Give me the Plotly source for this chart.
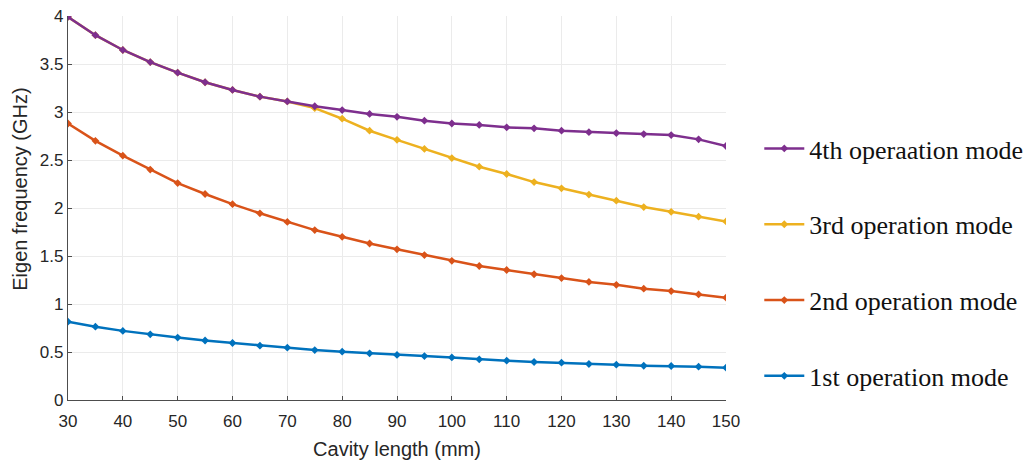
import plotly.graph_objects as go

cavity_length = [30, 35, 40, 45, 50, 55, 60, 65, 70, 75, 80, 85, 90, 95, 100,
                 105, 110, 115, 120, 125, 130, 135, 140, 145, 150]

mode1 = [0.816, 0.764, 0.72, 0.684, 0.65, 0.62, 0.594, 0.566, 0.545, 0.52, 0.503, 0.486, 0.47,
         0.458, 0.444, 0.424, 0.41, 0.396, 0.389, 0.375, 0.368, 0.357, 0.354, 0.347, 0.337]
mode2 = [2.88, 2.70, 2.545, 2.40, 2.26, 2.146, 2.04, 1.945, 1.855, 1.77, 1.70, 1.63, 1.57,
         1.51, 1.45, 1.396, 1.354, 1.31, 1.27, 1.23, 1.20, 1.16, 1.135, 1.10, 1.066]
mode3 = [3.99, 3.80, 3.646, 3.52, 3.41, 3.31, 3.23, 3.16, 3.11, 3.04, 2.93, 2.805, 2.71,
         2.615, 2.52, 2.43, 2.354, 2.27, 2.205, 2.14, 2.076, 2.01, 1.96, 1.91, 1.86]
mode4 = [3.99, 3.80, 3.646, 3.52, 3.41, 3.31, 3.23, 3.16, 3.11, 3.06, 3.02, 2.98, 2.95,
         2.91, 2.88, 2.865, 2.84, 2.83, 2.805, 2.79, 2.78, 2.77, 2.76, 2.715, 2.646]

series = [
    ("1st operation mode", mode1, "#0072BD", 4),
    ("2nd operation mode", mode2, "#D95319", 3),
    ("3rd operation mode", mode3, "#EDB120", 2),
    ("4th operaation mode", mode4, "#7E2F8E", 1),
]

x_ticks = [30, 40, 50, 60, 70, 80, 90, 100, 110, 120, 130, 140, 150]
y_ticks = [0, 0.5, 1, 1.5, 2, 2.5, 3, 3.5, 4]
y_tick_text = ["0", "0.5", "1", "1.5", "2", "2.5", "3", "3.5", "4"]

fig = go.Figure()
for name, vals, color, rank in series:
    fig.add_trace(go.Scatter(
        x=cavity_length, y=vals, name=name, mode="lines+markers",
        line=dict(color=color, width=2.5),
        marker=dict(symbol="diamond", size=6, color=color),
        legendgroup=name, legendrank=rank,
    ))

axis_font = dict(family="Liberation Sans, Arial, sans-serif", size=17, color="#262626")

# page has an 8px body margin; figure sized/offset to compensate
fig.update_layout(
    width=1027, height=456,
    margin=dict(l=60, r=308, t=8, b=64),
    paper_bgcolor="white", plot_bgcolor="white",
    showlegend=True,
    legend=dict(
        x=1.049, y=0.716, xanchor="left", yanchor="top",
        traceorder="grouped",
        tracegroupgap=39,
        font=dict(family="Liberation Serif, Times New Roman, serif", size=26, color="#111111"),
        bgcolor="rgba(0,0,0,0)",
        itemwidth=40,
    ),
    xaxis=dict(
        range=[30, 150], tickvals=x_ticks,
        showgrid=True, gridcolor="#ebebeb", gridwidth=1,
        showline=True, linecolor="#4d4d4d", linewidth=1.2,
        ticks="inside", ticklen=4, tickcolor="#4d4d4d",
        tickfont=axis_font, zeroline=False, automargin=False,
        ticklabelstandoff=5,
        title=dict(text="Cavity length (mm)",
                   font=dict(family="Liberation Sans, Arial, sans-serif", size=20, color="#262626"),
                   standoff=12),
    ),
    yaxis=dict(
        range=[0, 4], tickvals=y_ticks, ticktext=y_tick_text,
        showgrid=True, gridcolor="#ebebeb", gridwidth=1,
        showline=True, linecolor="#4d4d4d", linewidth=1.2,
        ticks="inside", ticklen=4, tickcolor="#4d4d4d",
        tickfont=axis_font, zeroline=False, automargin=False,
        ticklabeloverflow="allow",
    ),
    annotations=[dict(
        text="Eigen frequency (GHz)", textangle=-90,
        xref="paper", yref="paper", x=-0.073, y=0.55,
        xanchor="center", yanchor="middle", showarrow=False,
        font=dict(family="Liberation Sans, Arial, sans-serif", size=20, color="#262626"),
    )],
)

fig.write_html("out.html")
